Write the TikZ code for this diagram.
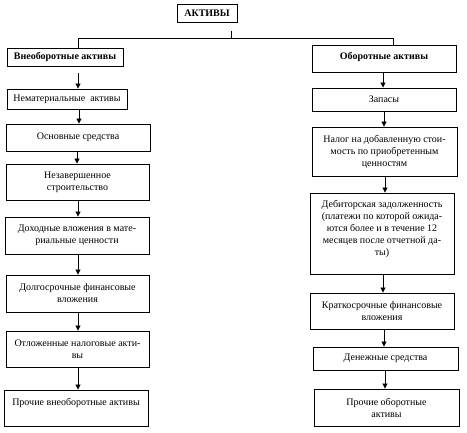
\documentclass[tikz,border=0pt]{standalone}
\usepackage{fontspec}
\setmainfont{Liberation Serif}
\usetikzlibrary{arrows.meta}
\tikzset{
  box/.style={draw, line width=0.9pt, rectangle, inner sep=0pt, align=center,
    font=\fontsize{10}{12}\selectfont},
  head/.style={box, font=\fontsize{10}{12}\selectfont\bfseries},
  arr/.style={line width=0.9pt, -{Triangle[length=5pt,width=5pt]}},
  ln/.style={line width=0.9pt}
}
\begin{document}
\begin{tikzpicture}[x=1pt,y=-1pt]
\useasboundingbox (0,0) rectangle (467,433);
% headers
\node[head, minimum width=60pt, minimum height=18pt] (top) at (207,13) {АКТИВЫ};
\node[head, minimum width=116pt, minimum height=18pt] (vne) at (65,57) {Внеоборотные активы};
\node[head, minimum width=144pt, minimum height=27pt] (obo) at (384,58.5) {Оборотные активы\\[-6pt]\mbox{}};
% left column
\node[box, minimum width=120pt, minimum height=20pt] (nem) at (67,99) {Нематериальные~ активы};
\node[box, minimum width=144pt, minimum height=27pt] (osn) at (78,137.5) {Основные средства};
\node[box, minimum width=143pt, minimum height=36pt] (nez) at (77.5,182) {Незавершенное\\строительство};
\node[box, minimum width=144pt, minimum height=37pt] (dox) at (77,235.5) {Доходные вложения в мате-\\риальные ценности};
\node[box, minimum width=143pt, minimum height=37pt] (dol) at (77.5,293.5) {Долгосрочные финансовые\\вложения};
\node[box, minimum width=143pt, minimum height=36pt] (otl) at (77.5,349) {Отложенные налоговые акти-\\вы};
\node[box, minimum width=144pt, minimum height=36pt] (pvn) at (76,408) {Прочие внеоборотные активы\\\mbox{}};
% right column
\node[box, minimum width=144pt, minimum height=23pt] (zap) at (384,99.5) {Запасы};
\node[box, minimum width=145pt, minimum height=49pt] (nal) at (384.5,151.5) {Налог на добавленную стои-\\мость по приобретенным\\ценностям};
\node[box, minimum width=144pt, minimum height=81pt] (deb) at (382,233.5) {Дебиторская задолженность\\(платежи по которой ожида-\\ются более и в течение 12\\месяцев после отчетной да-\\ты)\\\mbox{}};
\node[box, minimum width=144pt, minimum height=36pt] (kra) at (382,311) {Краткосрочные финансовые\\вложения};
\node[box, minimum width=145pt, minimum height=23pt] (den) at (385.5,358.5) {Денежные средства};
\node[box, minimum width=145pt, minimum height=37pt] (pob) at (386.5,407.5) {Прочие оборотные\\активы};
% top branching
\coordinate (t1) at (231,31);
\coordinate (t2) at (231,38);
\coordinate (bl) at (78,38);
\coordinate (br) at (393,38);
\draw[ln] (t1) -- (t2);
\draw[ln] (vne.north -| bl) -- (bl) -- (br) -- (obo.north -| br);
% left arrows
\coordinate (a1) at (78,0);
\coordinate (a2) at (79,0);
\coordinate (a3) at (77,0);
\draw[arr, shorten <=7pt] (vne.south -| a1) -- (nem.north -| a1);
\draw[arr] (nem.south -| a2) -- (osn.north -| a2);
\draw[arr] (osn.south -| a3) -- (nez.north -| a3);
\draw[arr] (nez.south -| a1) -- (dox.north -| a1);
\draw[arr] (dox.south -| a1) -- (dol.north -| a1);
\draw[arr] (dol.south -| a1) -- (otl.north -| a1);
\draw[arr] (otl.south -| a1) -- (pvn.north -| a1);
% right arrows
\coordinate (b1) at (383,0);
\coordinate (b2) at (384,0);
\coordinate (b3) at (385,0);
\draw[arr] (obo.south -| b1) -- (zap.north -| b1);
\draw[arr] (zap.south -| b2) -- (nal.north -| b2);
\draw[arr] (nal.south -| b3) -- (deb.north -| b3);
\draw[arr] (deb.south -| b1) -- (kra.north -| b1);
\draw[arr] (kra.south -| b2) -- (den.north -| b2);
\draw[arr] (den.south -| b3) -- (pob.north -| b3);
\end{tikzpicture}
\end{document}
